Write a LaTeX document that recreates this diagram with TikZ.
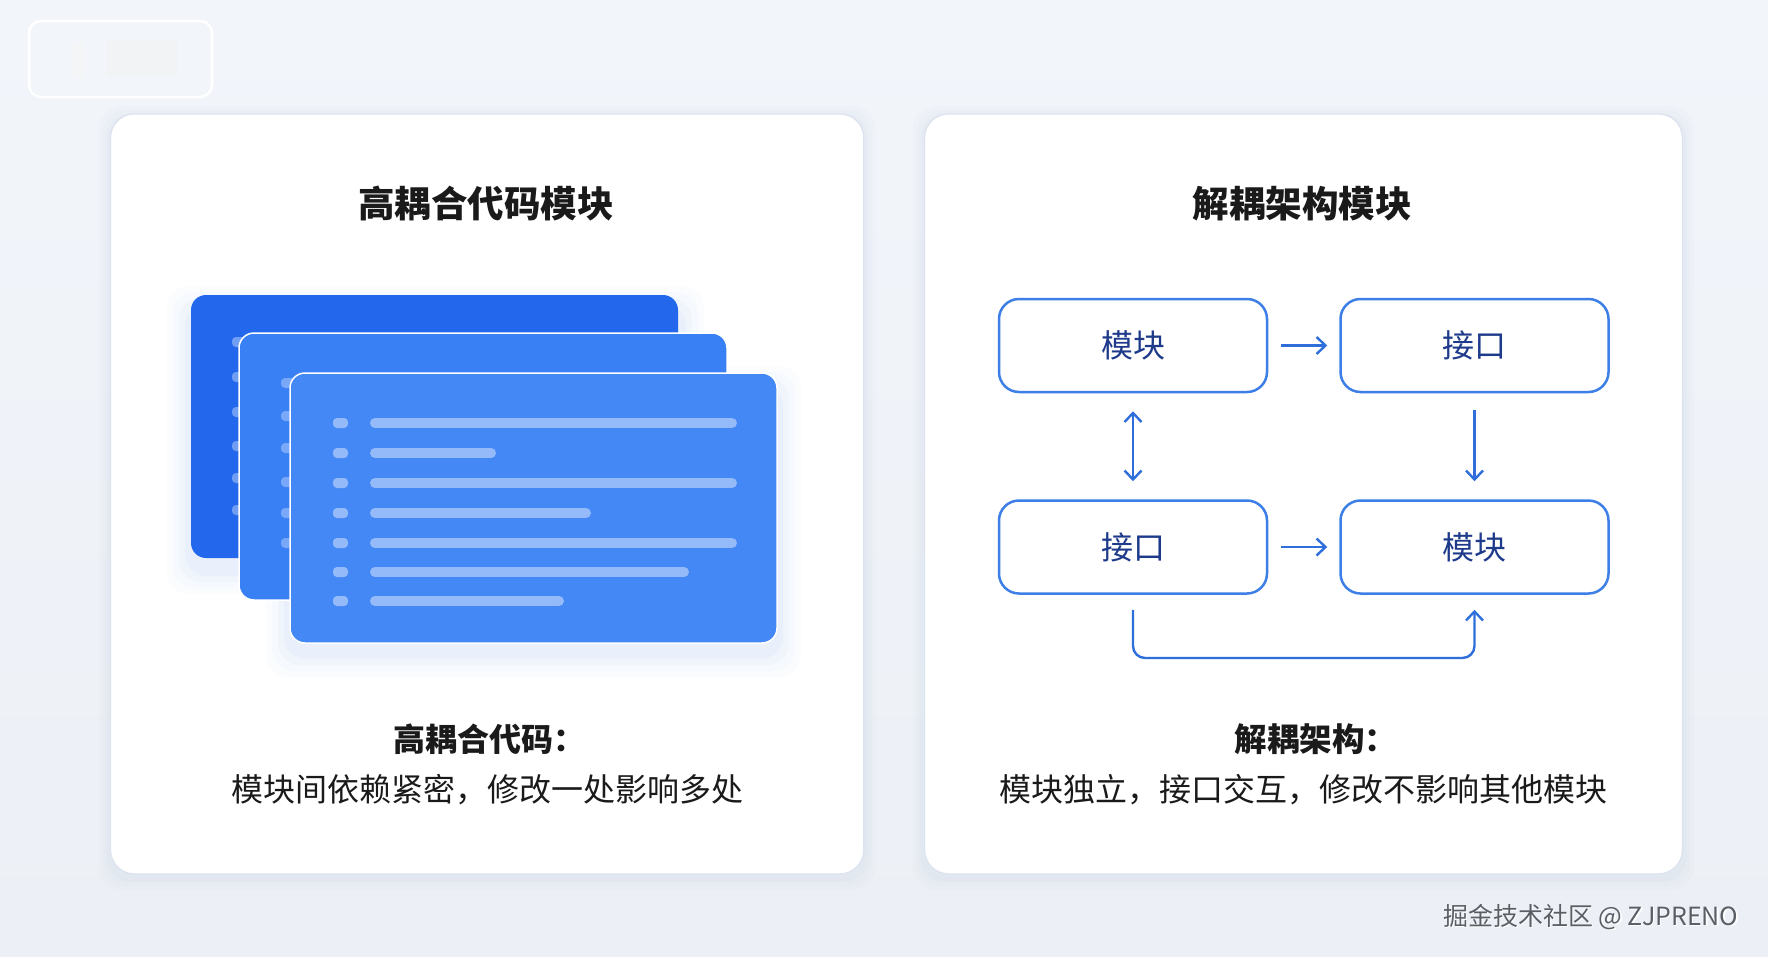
\documentclass[tikz,border=0pt]{standalone}
\usepackage{fontspec}
\setmainfont{Noto Sans CJK SC}
\usetikzlibrary{arrows.meta}
\definecolor{bgtop}{HTML}{F2F5FA}
\definecolor{bgbot}{HTML}{ECEFF5}
\definecolor{panelborder}{HTML}{DCE3EF}
\definecolor{shadowc}{HTML}{BFCBE0}
\definecolor{cardA}{HTML}{2368EC}
\definecolor{cardB}{HTML}{3A80F5}
\definecolor{cardC}{HTML}{4488F5}
\definecolor{codeline}{HTML}{A3C3FA}
\definecolor{boxblue}{HTML}{3D7FE6}
\definecolor{arrblue}{HTML}{2F6FDB}
\definecolor{navy}{HTML}{1E3A8A}
\definecolor{ink}{HTML}{1A1A1A}
\definecolor{wm}{HTML}{5A5F66}
\tikzset{
  panel/.style={fill=white, draw=panelborder, line width=1.2pt, rounded corners=24pt},
  mbox/.style={draw=boxblue, line width=2.5pt, rounded corners=20pt, fill=white,
    minimum width=268pt, minimum height=93pt, text=navy, font=\fontsize{32}{36}\selectfont},
  arr/.style={draw=arrblue, line width=2.4pt, -{Straight Barb[length=9pt,width=17pt]}},
  darr/.style={draw=arrblue, line width=2.4pt, {Straight Barb[length=9pt,width=17pt]}-{Straight Barb[length=9pt,width=17pt]}},
  title/.style={text=ink, font=\bfseries\fontsize{36.5}{42}\selectfont},
  codeln/.style={draw=codeline, line width=10pt, line cap=round, opacity=0.85},
  codedot/.style={fill=codeline, opacity=0.85, rounded corners=4pt},
}
\begin{document}
\begin{tikzpicture}[x=1pt,y=-1pt]
\useasboundingbox (0,0) rectangle (1768,956);
\shade[top color=bgtop, bottom color=bgbot] (0,0) rectangle (1768,956);

% faint top-left box
\draw[draw=white, line width=2.5pt, fill=bgtop, rounded corners=12pt] (29,21) rectangle (212,97);
\fill[black!4, opacity=0.6] (72,42) rectangle (85,78);
\fill[black!5, opacity=0.6] (106,39) rectangle (177,76);

% panel shadows
\foreach \d/\o in {12/0.05,8/0.07,4/0.09}{
  \fill[shadowc, opacity=\o, rounded corners=24pt] (110.5-\d,113.9-\d+4) rectangle (863.8+\d,873.9+\d+4);
  \fill[shadowc, opacity=\o, rounded corners=24pt] (924.6-\d,113.9-\d+4) rectangle (1682.4+\d,873.9+\d+4);
}
\draw[panel] (110.5,113.9) rectangle (863.8,873.9);
\draw[panel] (924.6,113.9) rectangle (1682.4,873.9);

% titles
\node[title] (t1) at (486,204) {高耦合代码模块};
\node[title] (t2) at (1302,204) {解耦架构模块};

% card stack shadow
\foreach \d/\o in {24/0.02,18/0.025,12/0.03,6/0.035}{
  \fill[cardB, opacity=\o, rounded corners=22pt] (290-\d,380-\d+10) rectangle (777+\d,643+\d+10);
  \fill[cardB, opacity=\o, rounded corners=22pt] (191-\d,300-\d+10) rectangle (680+\d,560+\d+10);
}
% card 1
\fill[cardA, rounded corners=15pt] (191,295) rectangle (678,558);
\foreach \yy in {342,377,412,446,478,510}{
  \fill[codeline, opacity=0.6, rounded corners=4pt] (232,\yy-5) rectangle (246,\yy+5);
}
% card 2
\filldraw[fill=cardB, draw=white, line width=1.5pt, rounded corners=15pt] (239,333) rectangle (727,600);
\foreach \yy in {383,416,448,482,513,543}{
  \fill[codeline, opacity=0.6, rounded corners=4pt] (281,\yy-5) rectangle (295,\yy+5);
}
% card 3
\filldraw[fill=cardC, draw=white, line width=1.5pt, rounded corners=15pt] (290,373) rectangle (777,643);
\foreach \yy/\xe in {423/732,453/491,483/732,513/586,543/732,572/684,601/559}{
  \fill[codedot] (333,\yy-5) rectangle (348,\yy+5);
  \draw[codeln] (375,\yy) -- (\xe,\yy);
}

% left captions
\node[text=ink, font=\bfseries\fontsize{32}{36}\selectfont] (c1) at (489,739) {高耦合代码：};
\node[text=ink, font=\fontsize{32}{36}\selectfont] (d1) at (487,790) {模块间依赖紧密，修改一处影响多处};

% right diagram
\node[mbox] (m1) at (1133,345.5) {模块};
\node[mbox] (i1) at (1474.5,345.5) {接口};
\node[mbox] (i2) at (1133,547) {接口};
\node[mbox] (m2) at (1474.5,547) {模块};
\coordinate (loopy) at (0,658);

\draw[arr, shorten <=13pt, shorten >=12pt] (m1) -- (i1);
\draw[arr, shorten <=13pt, shorten >=12pt] (i2) -- (m2);
\draw[darr, shorten <=18pt, shorten >=18pt] (m1) -- (i2);
\draw[arr, shorten <=17pt, shorten >=18pt] (i1) -- (m2);
\draw[arr, rounded corners=12pt, shorten <=15pt, shorten >=15pt] (i2.south) -- (i2.south |- loopy) -| (m2.south);

% right captions
\node[text=ink, font=\bfseries\fontsize{32.5}{36}\selectfont] (c2) at (1316,739) {解耦架构：};
\node[text=ink, font=\fontsize{32}{36}\selectfont] (d2) at (1303,790) {模块独立，接口交互，修改不影响其他模块};

% watermark
\node[anchor=east, text=white, font=\fontsize{25}{29}\selectfont] (wms) at (1743.5,918.5) {掘金技术社区 @ ZJPRENO};
\node[anchor=east, text=wm, font=\fontsize{25}{29}\selectfont] (wmk) at (1742,917) {掘金技术社区 @ ZJPRENO};
\end{tikzpicture}
\end{document}
